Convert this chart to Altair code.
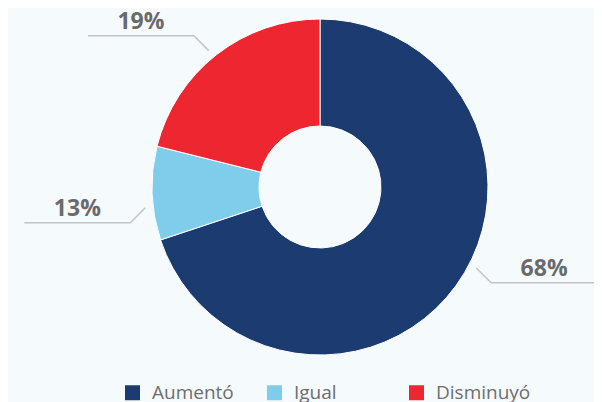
import altair as alt
import pandas as pd
import numpy as np

categories = ["Aumentó", "Igual", "Disminuyó"]
# slice shares as drawn in the picture
values = [69.9, 9.0, 21.1]
# percentages printed on the labels
label_values = [68, 13, 19]
labels = [f"{v}%" for v in label_values]
colors = ["#1C3B70", "#80CDEB", "#EE2630"]

W, H = 586, 370
CX, CY = 312, 179
R_OUT, R_IN = 168, 61
R_LEAD = 176
DIAG = 21
HLEN = 106
ANG_SHIFT = -5

lv = np.array(label_values, dtype=float)
cum = np.cumsum(lv) - lv
mid = np.deg2rad((cum + lv / 2) / lv.sum() * 360 + ANG_SHIFT)

pie_df = pd.DataFrame({"cat": categories, "value": values, "idx": range(len(values))})

line_rows, text_rows = [], []
for i, c in enumerate(categories):
    s, co = np.sin(mid[i]), np.cos(mid[i])
    sx, sy = np.sign(s), np.sign(-co)
    x0, y0 = CX + R_LEAD * s, CY - R_LEAD * co
    x1, y1 = x0 + sx * DIAG / np.sqrt(2), y0 + sy * DIAG / np.sqrt(2)
    x2, y2 = x1 + sx * HLEN, y1
    for k, (xx, yy) in enumerate([(x0, y0), (x1, y1), (x2, y2)]):
        line_rows.append({"cat": c, "step": k, "x": xx, "y": yy})
    text_rows.append({"cat": c, "label": labels[i], "x": x1 + sx * HLEN / 2, "y": y1 - 7})

line_df = pd.DataFrame(line_rows)
text_df = pd.DataFrame(text_rows)

xs = alt.Scale(domain=[0, W], nice=False, zero=False)
ys = alt.Scale(domain=[0, H], nice=False, zero=False, reverse=True)

arc = alt.Chart(pie_df).mark_arc(
    outerRadius=R_OUT, innerRadius=R_IN, stroke="white", strokeWidth=1
).encode(
    theta=alt.Theta("value:Q", stack=True),
    color=alt.Color(
        "cat:N",
        scale=alt.Scale(domain=categories, range=colors),
        sort=categories,
        legend=alt.Legend(
            title=None, orient="none", legendX=115, legendY=375,
            direction="horizontal", columns=3, gridAlign="all",
            symbolType="square", symbolSize=225, symbolStrokeWidth=0,
            labelFontSize=19, labelFont="Open Sans", labelColor="#6e6e6e",
            labelOffset=10, columnPadding=18, padding=0,
        ),
    ),
    order=alt.Order("idx:Q"),
    x=alt.value(CX),
    y=alt.value(CY),
)

lines = alt.Chart(line_df).mark_line(color="#c4c4c4", strokeWidth=1.5, clip=True).encode(
    x=alt.X("x:Q", scale=xs, axis=None),
    y=alt.Y("y:Q", scale=ys, axis=None),
    detail="cat:N",
    order="step:Q",
)

texts = alt.Chart(text_df).mark_text(
    font="Open Sans", fontSize=23, fontWeight="bold", color="#6a6a6a",
    align="center", baseline="alphabetic",
).encode(
    x=alt.X("x:Q", scale=xs, axis=None),
    y=alt.Y("y:Q", scale=ys, axis=None),
    text="label:N",
)

chart = alt.layer(arc, lines, texts).properties(
    width=W, height=H, padding=0, background="#F5FAFD"
).configure_view(stroke=None)

chart.save("out.html", embed_options={"renderer": "svg", "actions": False})
